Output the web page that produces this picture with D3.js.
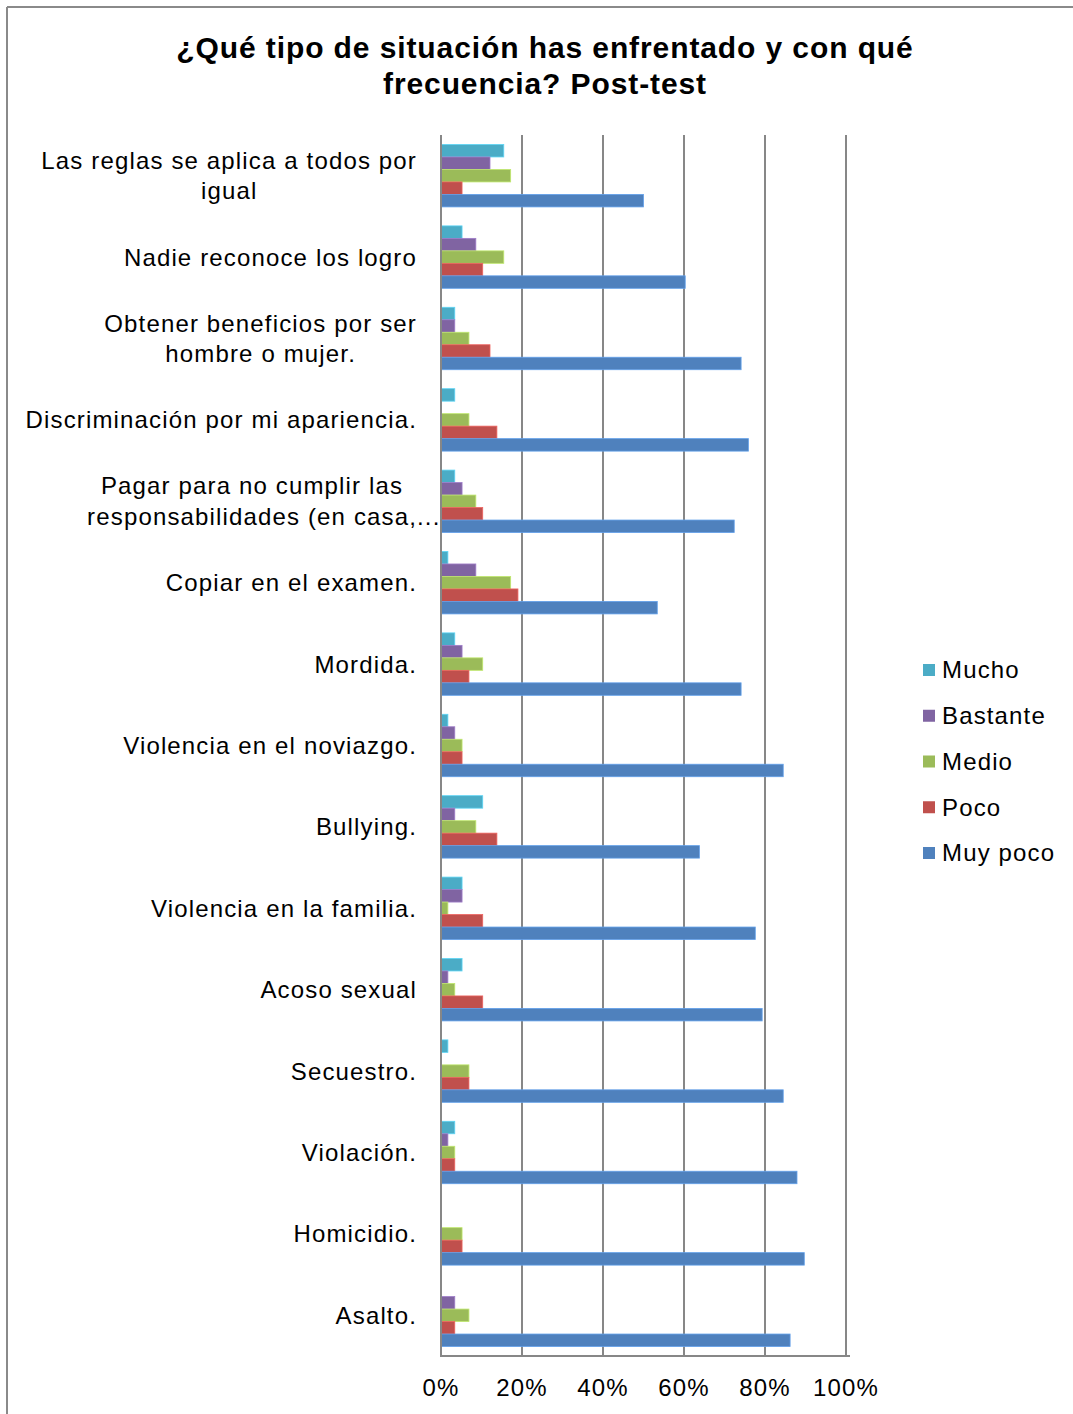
<!DOCTYPE html>
<html>
<head>
<meta charset="utf-8">
<script src="https://cdn.jsdelivr.net/npm/d3@7"></script>
<style>
  html, body { margin: 0; padding: 0; background: #fff; }
  svg { display: block; }
  text { font-family: "Liberation Sans", Arial, sans-serif; fill: #000; }
</style>
</head>
<body>
<svg id="chart" width="1073" height="1414"></svg>
<script>
// ---- Data (percent of respondents) ----
const title = ["¿Qué tipo de situación has enfrentado y con qué", "frecuencia? Post-test"];
const categories = [
  "Las reglas se aplica a todos por\nigual",
  "Nadie reconoce los logro",
  "Obtener beneficios por ser\nhombre o mujer.",
  "Discriminación por mi apariencia.",
  "Pagar para no cumplir las\nresponsabilidades (en casa,...",
  "Copiar en el examen.",
  "Mordida.",
  "Violencia en el noviazgo.",
  "Bullying.",
  "Violencia en la familia.",
  "Acoso sexual",
  "Secuestro.",
  "Violación.",
  "Homicidio.",
  "Asalto."
];
const seriesNames = ["Mucho", "Bastante", "Medio", "Poco", "Muy poco"];
const seriesColors = ["#4BACC6", "#8064A2", "#9BBB59", "#C0504D", "#4F81BD"];
const mucho    = [15.5, 5.2, 3.4, 3.4, 3.4, 1.7, 3.4, 1.7, 10.3, 5.2, 5.2, 1.7, 3.4, 0, 0];
const bastante = [12.1, 8.6, 3.4, 0, 5.2, 8.6, 5.2, 3.4, 3.4, 5.2, 1.7, 0, 1.7, 0, 3.4];
const medio    = [17.2, 15.5, 6.9, 6.9, 8.6, 17.2, 10.3, 5.2, 8.6, 1.7, 3.4, 6.9, 3.4, 5.2, 6.9];
const poco     = [5.2, 10.3, 12.1, 13.8, 10.3, 19.0, 6.9, 5.2, 13.8, 10.3, 10.3, 6.9, 3.4, 5.2, 3.4];
const muyPoco  = [50.0, 60.3, 74.1, 75.9, 72.4, 53.4, 74.1, 84.5, 63.8, 77.6, 79.3, 84.5, 87.9, 89.7, 86.2];
const seriesValues = [mucho, bastante, medio, poco, muyPoco];
const xTicks = [0, 20, 40, 60, 80, 100];

// ---- Layout ----
const svg = d3.select("#chart");
const plot = { left: 441, right: 846, top: 135, bottom: 1356 };
const gridColor = "#878787";
const fontSize = 24, letterSp = 1.15;

// frame
svg.append("line").attr("x1", 7).attr("x2", 1073).attr("y1", 7).attr("y2", 7)
  .attr("stroke", "#8a8a8a").attr("stroke-width", 2);
svg.append("line").attr("x1", 7).attr("x2", 7).attr("y1", 7).attr("y2", 1414)
  .attr("stroke", "#8a8a8a").attr("stroke-width", 2);

// title
svg.append("g").selectAll("text").data(title).join("text")
  .attr("x", 545).attr("y", (d, i) => 47 + i * 36)
  .attr("dy", "0.35em")
  .attr("text-anchor", "middle")
  .style("font-size", "30px").style("font-weight", "bold")
  .style("letter-spacing", "0.9px")
  .text(d => d);

const x = d3.scaleLinear().domain([0, 100]).range([plot.left, plot.right]);
const y = d3.scaleBand().domain(d3.range(categories.length))
  .range([plot.top, plot.bottom]).paddingInner(0.233).paddingOuter(0.1165);
const ySub = d3.scaleBand().domain(d3.range(seriesNames.length)).range([0, y.bandwidth()]);

// gridlines
svg.append("g").selectAll("line").data(xTicks.slice(1)).join("line")
  .attr("x1", d => x(d)).attr("x2", d => x(d))
  .attr("y1", plot.top).attr("y2", plot.bottom)
  .attr("stroke", gridColor).attr("stroke-width", 2);

// bars
const groups = svg.append("g").selectAll("g").data(categories).join("g")
  .attr("transform", (d, i) => `translate(0,${y(i)})`);
groups.selectAll("rect")
  .data((d, i) => seriesValues.map((vals, s) => ({ s, v: vals[i] })))
  .join("rect")
  .attr("x", x(0))
  .attr("y", d => ySub(d.s))
  .attr("width", d => x(d.v) - x(0))
  .attr("height", ySub.bandwidth())
  .attr("fill", d => seriesColors[d.s])
  .attr("stroke", d => d.v > 0 ? d3.color(seriesColors[d.s]).brighter(0.6) : "none")
  .attr("stroke-width", 0.8);

// axes lines
svg.append("line").attr("x1", plot.left).attr("x2", plot.left)
  .attr("y1", plot.top).attr("y2", plot.bottom)
  .attr("stroke", gridColor).attr("stroke-width", 2);
svg.append("line").attr("x1", plot.left - 1).attr("x2", plot.right + 4)
  .attr("y1", plot.bottom).attr("y2", plot.bottom)
  .attr("stroke", gridColor).attr("stroke-width", 2);

// x tick labels
svg.append("g").selectAll("text").data(xTicks).join("text")
  .attr("x", d => x(d)).attr("y", 1388).attr("dy", "0.35em")
  .attr("text-anchor", "middle")
  .style("font-size", fontSize + "px").style("letter-spacing", letterSp + "px")
  .text(d => d + "%");

// category labels (lines centered among themselves, block right-aligned)
const labelRight = 417, lineH = 30.5;
categories.forEach((c, i) => {
  const lines = c.split("\n");
  const g = svg.append("g");
  const cy = y(i) + y.bandwidth() / 2;
  const texts = lines.map((ln, k) => {
    const core = ln.replace(/\.\.\.$/, "");
    const t = g.append("text")
      .attr("y", cy + (k - (lines.length - 1) / 2) * lineH)
      .attr("dy", "0.35em")
      .style("font-size", fontSize + "px").style("letter-spacing", letterSp + "px")
      .text(core);
    const w = t.node().getComputedTextLength();
    t.text(ln);
    return { t, w };
  });
  const W = d3.max(texts, d => d.w);
  const cx = labelRight - W / 2;
  texts.forEach(d => d.t.attr("x", cx - d.w / 2));
});

// legend
const legend = svg.append("g").selectAll("g").data(seriesNames).join("g")
  .attr("transform", (d, i) => `translate(923,${670 + i * 45.75})`);
legend.append("rect").attr("x", 0).attr("y", -6).attr("width", 12).attr("height", 12)
  .attr("fill", (d, i) => seriesColors[i]);
legend.append("text").attr("x", 19).attr("y", 0).attr("dy", "0.35em")
  .style("font-size", fontSize + "px").style("letter-spacing", letterSp + "px")
  .text(d => d);
</script>
</body>
</html>
